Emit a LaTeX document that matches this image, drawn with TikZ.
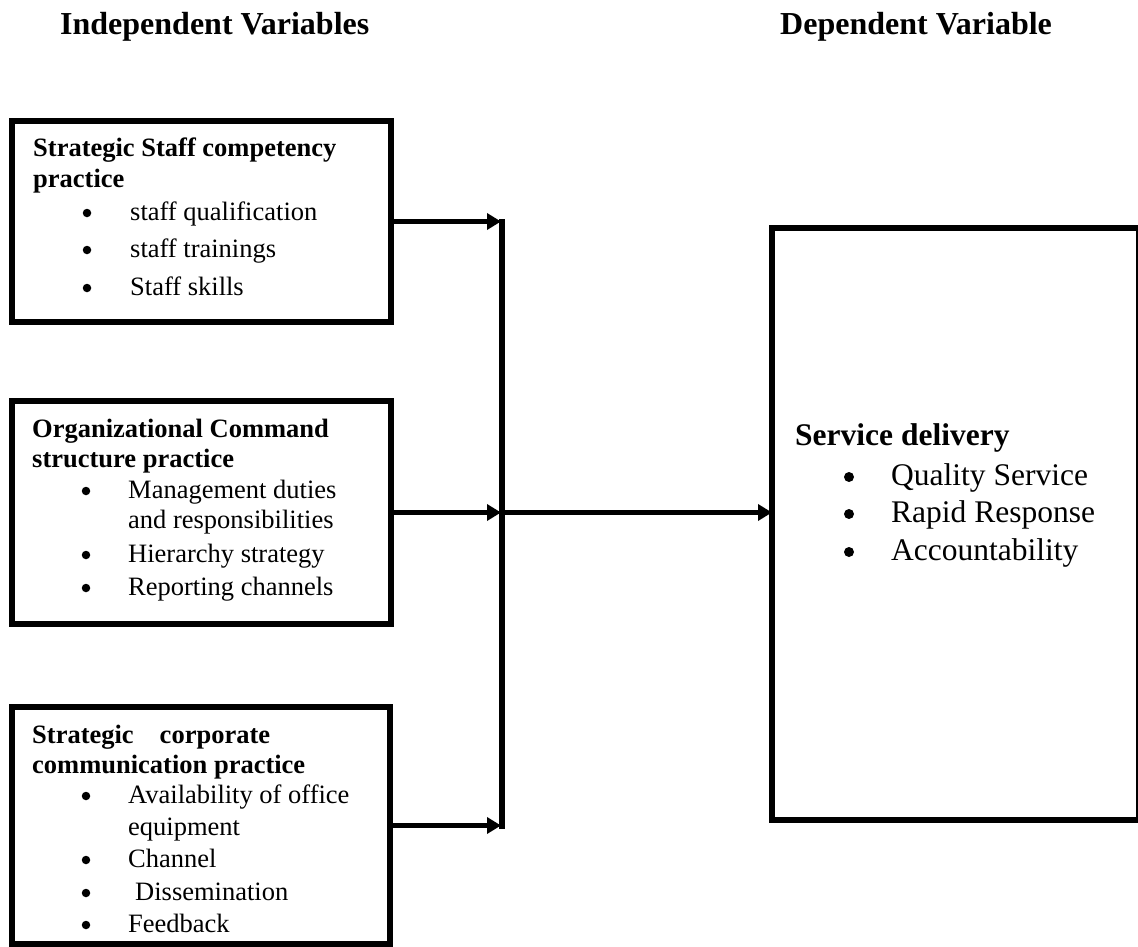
\documentclass[tikz,border=0pt]{standalone}
\usepackage{fontspec}
\setmainfont{Liberation Serif}
\usetikzlibrary{arrows.meta}
\begin{document}
\begin{tikzpicture}[x=1pt,y=-1pt,
  box/.style={draw, line width=5.5pt, inner sep=0pt, outer sep=0pt, anchor=north west},
  conn/.style={line width=5.5pt},
  arr/.style={line width=5.5pt, -{Triangle[length=14pt,width=16pt]}},
  txt/.style={anchor=base west, inner sep=0pt, font=\fontsize{26.5}{30}\selectfont},
  hd/.style={anchor=base west, inner sep=0pt, font=\fontsize{26.5}{30}\selectfont\bfseries},
  dot/.style={circle, fill, inner sep=0pt, minimum size=8.5pt},
  rdot/.style={circle, fill, inner sep=0pt, minimum size=10pt},
  ttl/.style={anchor=base west, inner sep=0pt, font=\fontsize{32}{36}\selectfont\bfseries},
  rtxt/.style={anchor=base west, inner sep=0pt, font=\fontsize{31.5}{36}\selectfont},
  rhd/.style={anchor=base west, inner sep=0pt, font=\fontsize{31.5}{36}\selectfont\bfseries}]
\useasboundingbox (0,0) rectangle (1138,947);

% titles
\node[ttl] (tindep) at (60,35) {Independent Variables};
\node[ttl] (tdep) at (780,35) {Dependent Variable};

% boxes
\node[box, minimum width=379pt, minimum height=201pt] (b1) at (12,121) {};
\node[box, minimum width=379pt, minimum height=223pt] (b2) at (12,401) {};
\node[box, minimum width=378pt, minimum height=237pt] (b3) at (12,707) {};
\node[box, minimum width=367pt, minimum height=592pt] (rb) at (772,228) {};

% box 1 text
\node[hd] (b1h1) at (33,157) {Strategic Staff competency};
\node[hd] (b1h2) at (33,187) {practice};
\node[dot] (b1d1) at (87,213) {};
\node[txt] (b1t1) at (130,220) {staff qualification};
\node[dot] (b1d2) at (87,250) {};
\node[txt] (b1t2) at (130,257) {staff trainings};
\node[dot] (b1d3) at (87,288) {};
\node[txt] (b1t3) at (130,295) {Staff skills};

% box 2 text
\node[hd] (b2h1) at (32,437) {Organizational Command};
\node[hd] (b2h2) at (32,467) {structure practice};
\node[dot] (b2d1) at (86,491) {};
\node[txt] (b2t1) at (128,498) {Management duties};
\node[txt] (b2t1b) at (128,528) {and responsibilities};
\node[dot] (b2d2) at (86,555) {};
\node[txt] (b2t2) at (128,562) {Hierarchy strategy};
\node[dot] (b2d3) at (86,588) {};
\node[txt] (b2t3) at (128,595) {Reporting channels};

% box 3 text
\node[hd] (b3h1) at (32,743) {Strategic\hspace{26pt}corporate};
\node[hd] (b3h2) at (32,773) {communication practice};
\node[dot] (b3d1) at (86,796) {};
\node[txt] (b3t1) at (128,803) {Availability of office};
\node[txt] (b3t1b) at (128,835) {equipment};
\node[dot] (b3d2) at (86,860) {};
\node[txt] (b3t2) at (128,867) {Channel};
\node[dot] (b3d3) at (86,893) {};
\node[txt] (b3t3) at (135,900) {Dissemination};
\node[dot] (b3d4) at (86,925) {};
\node[txt] (b3t4) at (128,932) {Feedback};

% right box text
\node[rhd] (rbh) at (795,445) {Service delivery};
\node[rdot] (rbd1) at (849,477) {};
\node[rtxt] (rbt1) at (891,485) {Quality Service};
\node[rdot] (rbd2) at (849,514) {};
\node[rtxt] (rbt2) at (891,522) {Rapid Response};
\node[rdot] (rbd3) at (849,552) {};
\node[rtxt] (rbt3) at (891,560) {Accountability};

% connectors
\coordinate (vx) at (501,0);
\coordinate (vtop) at (502,219);
\coordinate (vbot) at (502,829);
\draw[conn] (vtop) -- (vbot);
\draw[arr] (b1.east) -- (b1.east -| vx);
\draw[arr] (b2.east) -- (b2.east -| vx);
\draw[arr] (b3.east) -- (b3.east -| vx);
\draw[arr] (vx |- b2.east) -- (rb.west |- b2.east);
\end{tikzpicture}
\end{document}
